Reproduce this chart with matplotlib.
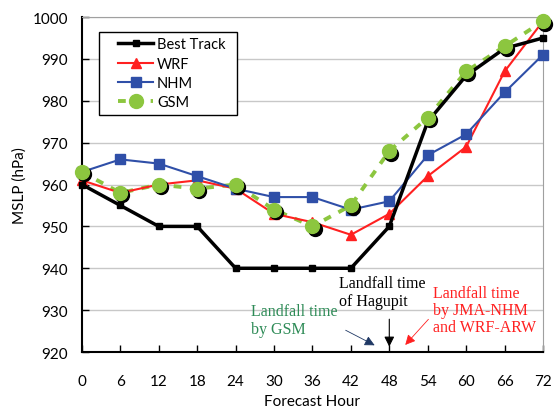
import matplotlib.pyplot as plt
import matplotlib.transforms as mtransforms
from matplotlib.lines import Line2D
from matplotlib.legend_handler import HandlerLine2D

# Data
hours = [0, 6, 12, 18, 24, 30, 36, 42, 48, 54, 60, 66, 72]
best_track = [960, 955, 950, 950, 940, 940, 940, 940, 950, 975, 986, 992.5, 995]
wrf = [961, 958, 960, 961, 959, 953, 951, 948, 953, 962, 969, 987, 999]
nhm = [963, 966, 965, 962, 959, 957, 957, 954, 956, 967, 972, 982, 991]
gsm = [963, 958, 960, 959, 960, 954, 950, 955, 968, 976, 987, 993, 999]

green = '#8cc63f'
red = '#ff2020'
blue = '#2f4fa8'
plt.rcParams['font.family'] = ['Lato', 'DejaVu Sans']

fig = plt.figure(figsize=(5.55, 4.1), dpi=100)
ax = fig.add_axes([0.1477, 0.139, 0.8306, 0.817])

ax.plot(hours, best_track, color='black', lw=2.5, marker='s', ms=4.5, zorder=4, clip_on=False)
ax.plot(hours, wrf, color=red, lw=1.5, marker='^', ms=7, zorder=3, clip_on=False)
ax.plot(hours, nhm, color=blue, lw=1.5, marker='s', ms=7, zorder=3, clip_on=False)
ax.plot(hours, gsm, color=green, lw=2.8, ls=(0, (2, 2.2)), zorder=2)
# black drop shadow under the GSM markers
shadow = ax.transData + mtransforms.ScaledTranslation(1.5 / 72, -1.8 / 72, fig.dpi_scale_trans)
ax.plot(hours, gsm, color='black', lw=0, marker='o', ms=10, zorder=5, transform=shadow, clip_on=False)
ax.plot(hours, gsm, color=green, lw=0, marker='o', ms=10, zorder=6, clip_on=False)

handles = [
    Line2D([], [], color='black', lw=2.5, marker='s', ms=4.5),
    Line2D([], [], color=red, lw=1.5, marker='^', ms=7),
    Line2D([], [], color=blue, lw=1.5, marker='s', ms=7),
    Line2D([], [], color=green, lw=2.8, ls=(0, (2, 2.2)), marker='o', ms=10),
]
leg = ax.legend(handles, ['Best Track', 'WRF', 'NHM', 'GSM'], loc='upper left',
                bbox_to_anchor=(0.037, 0.955, 0.3, 0.0), mode='expand', borderaxespad=0,
                fancybox=False, edgecolor='black', fontsize=10.5, numpoints=1,
                handlelength=3.36, borderpad=0.35, labelspacing=0.37, handletextpad=0.27,
                framealpha=1, handler_map={Line2D: HandlerLine2D(xpad=0.95)})
leg.get_frame().set_linewidth(1.0)

ax.set_xlim(0, 72)
ax.set_ylim(920, 1000)
ax.set_xticks(hours)
ax.set_yticks(range(920, 1001, 10))
ax.tick_params(labelsize=11, direction='in', length=5, width=1)
ax.tick_params(axis='x', pad=16)
ax.tick_params(axis='y', pad=10)
ax.yaxis.grid(True, color='#c8c8c8', lw=1)
ax.set_axisbelow(True)
for s in ['top', 'right']:
    ax.spines[s].set_color('#a0a0a0')
for s in ['left', 'bottom']:
    ax.spines[s].set_color('black')
    ax.spines[s].set_linewidth(1.5)
ax.set_xlabel('Forecast Hour', fontsize=11, labelpad=4)
ax.set_ylabel('MSLP (hPa)', fontsize=11, labelpad=4)

serif = ['Liberation Serif', 'DejaVu Serif']
arrow = '-|>,head_length=0.6,head_width=0.3'
ax.text(40.1, 938.3, 'Landfall time\nof Hagupit', family=serif, fontsize=11.5,
        color='black', va='top', ha='left', linespacing=1.1)
ax.annotate('', xy=(48, 920.6), xytext=(48, 928.5),
            arrowprops=dict(arrowstyle=arrow, color='black', lw=0.8))
ax.text(26.4, 931.6, 'Landfall time\nby GSM', family=serif, fontsize=11.5,
        color='#2e8b57', va='top', ha='left', linespacing=1.1)
ax.annotate('', xy=(46.1, 921.3), xytext=(40.8, 925.5),
            arrowprops=dict(arrowstyle=arrow, color='#1f3864', lw=0.6))
ax.text(54.8, 936.0, 'Landfall time\nby JMA-NHM\nand WRF-ARW', family=serif, fontsize=11.5,
        color=red, va='top', ha='left', linespacing=1.1)
ax.annotate('', xy=(50.2, 921.2), xytext=(54.4, 928.3),
            arrowprops=dict(arrowstyle=arrow, color=red, lw=0.6))

fig.savefig('out.png', dpi=100)
